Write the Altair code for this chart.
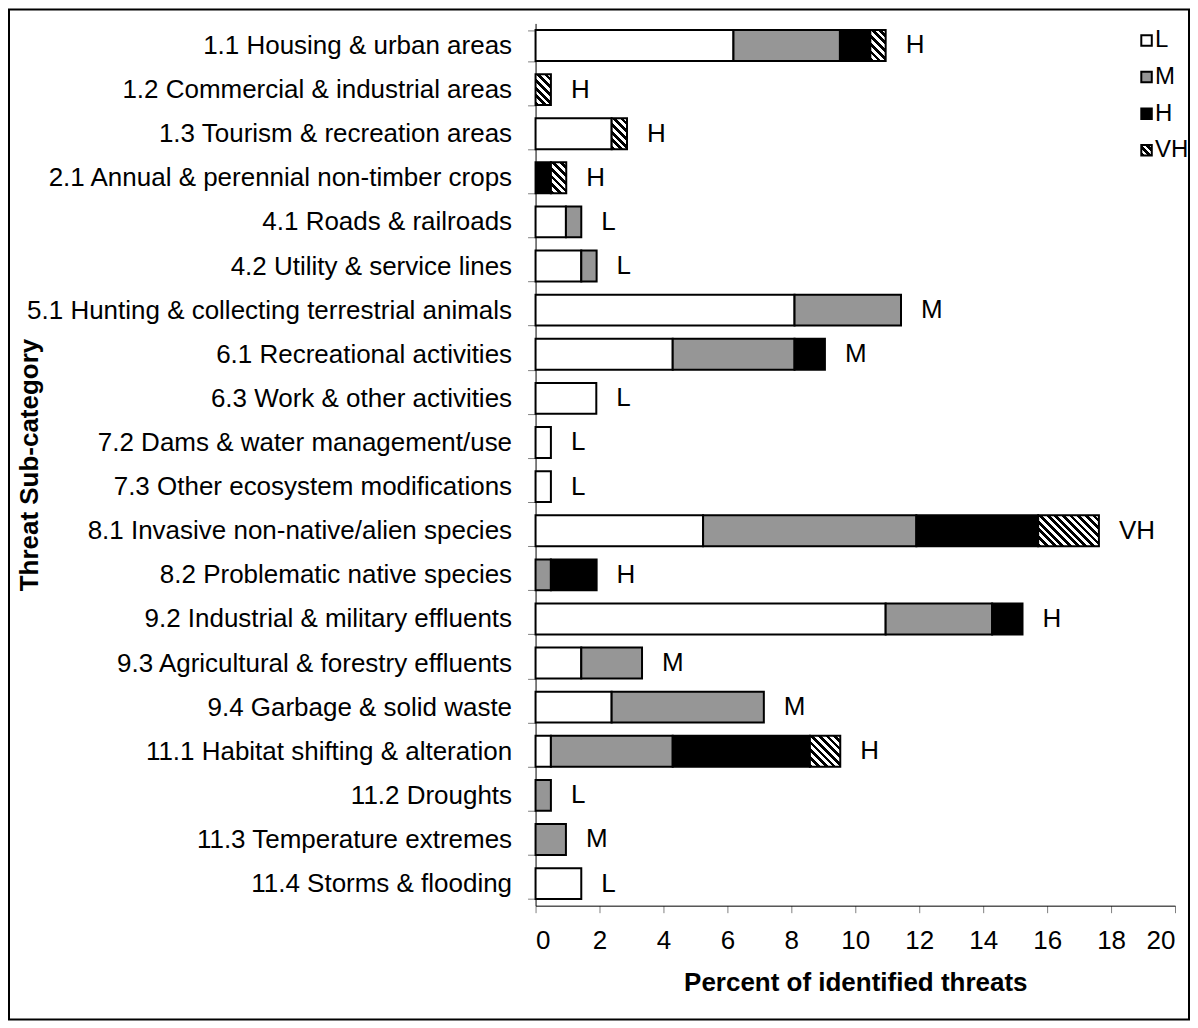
import math
import altair as alt
import pandas as pd

levels = ["L", "M", "H", "VH"]
categories = [
    "1.1 Housing & urban areas",
    "1.2 Commercial & industrial areas",
    "1.3 Tourism & recreation areas",
    "2.1 Annual & perennial non-timber crops",
    "4.1 Roads & railroads",
    "4.2 Utility & service lines",
    "5.1 Hunting & collecting terrestrial animals",
    "6.1 Recreational activities",
    "6.3 Work & other activities",
    "7.2 Dams & water management/use",
    "7.3 Other ecosystem modifications",
    "8.1 Invasive non-native/alien species",
    "8.2 Problematic native species",
    "9.2 Industrial & military effluents",
    "9.3 Agricultural & forestry effluents",
    "9.4 Garbage & solid waste",
    "11.1 Habitat shifting & alteration",
    "11.2 Droughts",
    "11.3 Temperature extremes",
    "11.4 Storms & flooding",
]
L_vals = [6.19, 0, 2.38, 0, 0.95, 1.43, 8.10, 4.29, 1.90, 0.48, 0.48, 5.24, 0, 10.95, 1.43, 2.38, 0.48, 0, 0, 1.43]
M_vals = [3.33, 0, 0, 0, 0.48, 0.48, 3.33, 3.81, 0, 0, 0, 6.67, 0.48, 3.33, 1.90, 4.76, 3.81, 0.48, 0.95, 0]
H_vals = [0.95, 0, 0, 0.48, 0, 0, 0, 0.95, 0, 0, 0, 3.81, 1.43, 0.95, 0, 0, 4.29, 0, 0, 0]
VH_vals = [0.48, 0.48, 0.48, 0.48, 0, 0, 0, 0, 0, 0, 0, 1.90, 0, 0, 0, 0, 0.95, 0, 0, 0]
ratings = ["H", "H", "H", "H", "L", "L", "M", "M", "L", "L", "L", "VH", "H", "H", "M", "M", "H", "L", "M", "L"]

series = [L_vals, M_vals, H_vals, VH_vals]
rows = []
for i, c in enumerate(categories):
    for j, lvl in enumerate(levels):
        v = series[j][i]
        if v > 0:
            rows.append({"cat": c, "level": lvl, "ord": j, "value": v})
df = pd.DataFrame(rows)
tot = pd.DataFrame({
    "cat": categories,
    "total": [sum(s[i] for s in series) for i in range(len(categories))],
    "rating": ratings,
})

W, H = 640, 883
XMAX = 20
px_unit = W / XMAX
bar_h = H / len(categories) * 0.7
FONT = "Liberation Sans"
FS = 26
TFS = 26


def hatch(w, h, period=5.5):
    span = (w + h) / math.sqrt(2)
    n = max(1, round(span / period))
    k = (1 / h + 1 / w) / (1 / h ** 2 + 1 / w ** 2)
    gx, gy = k / h, -k / w
    stops = []
    for i in range(n):
        a, b, c = i / n, (i + 0.5) / n, (i + 1) / n
        stops += [
            {"offset": a, "color": "black"},
            {"offset": b, "color": "black"},
            {"offset": b, "color": "white"},
            {"offset": c, "color": "white"},
        ]
    return {"gradient": "linear", "x1": 0, "y1": 1, "x2": gx, "y2": 1 + gy, "stops": stops}


color_scale = alt.Scale(domain=levels, range=["white", "#969696", "black", "white"])
vh_unique = sorted(set(v for v in VH_vals if v > 0))
bar_conditions = [
    {"test": f"datum.level == 'VH' && abs(datum.value - {v}) < 0.001",
     "value": hatch(v * px_unit, bar_h)}
    for v in vh_unique
]

yscale = alt.Scale(paddingInner=0.3, paddingOuter=0.15)

bars = alt.Chart(df).mark_bar(stroke="black", strokeWidth=2).encode(
    x=alt.X(
        "value:Q",
        stack="zero",
        scale=alt.Scale(domain=[0, XMAX], nice=False),
        axis=alt.Axis(
            values=list(range(0, 21, 2)),
            title="Percent of identified threats",
            grid=False,
            labelFont=FONT, labelFontSize=FS, labelColor="black",
            tickColor="#808080", tickSize=7, domainColor="black",
            labelPadding=15,
            titleFont=FONT, titleFontSize=TFS, titleFontWeight="bold", titleColor="black",
            titlePadding=16,
        ),
    ),
    y=alt.Y(
        "cat:N",
        sort=categories,
        scale=yscale,
        axis=alt.Axis(
            title="Threat Sub-category",
            tickBand="extent",
            labelFont=FONT, labelFontSize=FS, labelColor="black",
            labelPadding=16, tickSize=8, tickColor="#808080", domainColor="black",
            labelLimit=600,
            titleFont=FONT, titleFontSize=TFS, titleFontWeight="bold", titleColor="black",
            titleX=-506, titleY=441.5, titleAngle=270, titleAlign="center", titleBaseline="middle",
        ),
    ),
    fill=alt.Fill("level:N", scale=color_scale, legend=None, condition=bar_conditions),
    order=alt.Order("ord:Q", sort="ascending"),
)

labels = alt.Chart(tot).mark_text(
    align="left", baseline="middle", dx=20, font=FONT, fontSize=FS, color="black"
).encode(
    x=alt.X("total:Q", scale=alt.Scale(domain=[0, XMAX], nice=False)),
    y=alt.Y("cat:N", sort=categories, scale=yscale, axis=None),
    text="rating:N",
)

leg = pd.DataFrame({"level": levels})
leg_y = alt.Y("level:N", scale=alt.Scale(type="point", domain=levels, range=[17, 127], padding=0), axis=None)
leg_sq = alt.Chart(leg).mark_square(size=110, stroke="black", strokeWidth=2, opacity=1, filled=True).encode(
    x=alt.value(611.5),
    y=leg_y,
    fill=alt.Fill("level:N", scale=color_scale, legend=None,
                  condition={"test": "datum.level == 'VH'", "value": hatch(11, 11, period=6)}),
)
leg_txt = alt.Chart(leg).mark_text(align="left", baseline="middle", font=FONT, fontSize=24, color="black").encode(
    x=alt.value(620),
    y=leg_y,
    text="level:N",
)

border = alt.Chart(pd.DataFrame({"a": [0]})).mark_rect(
    fillOpacity=0, stroke="black", strokeWidth=2
).encode(
    x=alt.value(-527), x2=alt.value(654), y=alt.value(-14), y2=alt.value(997)
)

chart = alt.layer(border, bars, labels, leg_sq, leg_txt).resolve_scale(y="independent").properties(
    width=W, height=H, padding=0, background="white"
).configure_view(stroke=None)

chart.save("out.html", embed_options={"renderer": "svg", "actions": False})
